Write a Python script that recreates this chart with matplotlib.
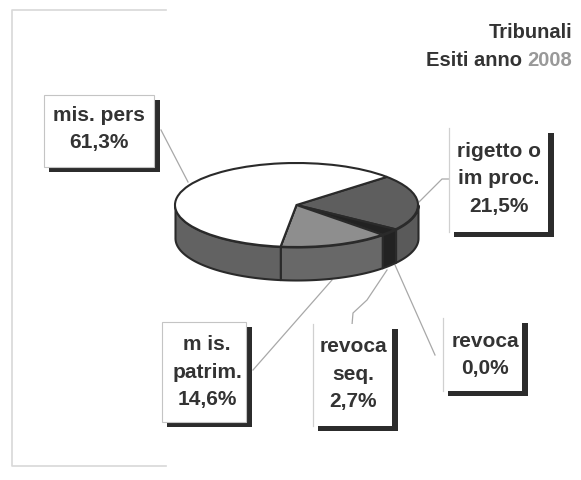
import numpy as np
import matplotlib
matplotlib.use('Agg')
import matplotlib.pyplot as plt
from matplotlib.patches import Rectangle

plt.rcParams['font.family'] = ['Liberation Sans', 'DejaVu Sans']

W, H = 581, 480

# clockwise from the back right of the pie
labels = ['rigetto o improc.', 'revoca seq.', 'mis. patrim.', 'revoca', 'mis. pers']
values = [21.5, 2.7, 14.6, 0.0, 61.3]
top_colors = ['#5e5e5e', '#222222', '#8e8e8e', '#444444', '#ffffff']
wall_colors = ['#5a5a5a', '#222222', '#686868', '#444444', '#626262']

box_texts = ['rigetto o\nim proc.\n21,5%', 'revoca\nseq.\n2,7%', 'm is.\npatrim.\n14,6%',
             'revoca\n0,0%', 'mis. pers\n61,3%']
# left, top, right, bottom in pixels
box_rects = [(449, 128, 548, 232), (313, 324, 392, 426), (162, 322, 246, 422),
             (443, 318, 522, 391), (44, 95, 154, 167)]
text_centers = [(499, 179), (353, 374), (207, 372), (485, 355), (99, 129)]
full_frame = [False, False, True, False, True]
leaders = [[(419, 202), (442, 179), (449, 179)],
           [(387, 270), (367, 300), (353, 313), (352, 325)],
           [(332, 280), (253, 370)],
           [(395, 265), (435, 355)],
           [(161, 130), (188, 182)]]

fig = plt.figure(figsize=(W / 100, H / 100), dpi=100, facecolor='white')

bg = fig.add_axes([0, 0, 1, 1])
bg.set_xlim(0, W)
bg.set_ylim(H, 0)
bg.axis('off')

# faint scanned frame
bg.plot([166, 12, 12, 166], [10, 10, 466, 466], color='#d8d8d8', lw=1.2)

for pts in leaders:
    xs, ys = zip(*pts)
    bg.plot(xs, ys, color='#a8a8a8', lw=0.9)

for (x0, y0, x1, y1), txt, (tx, ty), full in zip(box_rects, box_texts, text_centers, full_frame):
    bg.add_patch(Rectangle((x0 + 5, y0 + 5), x1 - x0 + 1, y1 - y0, fc='#2c2c2c', ec='none', zorder=3))
    bg.add_patch(Rectangle((x0, y0), x1 - x0, y1 - y0, fc='white',
                           ec='#c4c4c4' if full else 'none', lw=0.8, zorder=4))
    if not full:
        bg.plot([x0, x0], [y0, y1], color='#d0d0d0', lw=0.9, zorder=5)
    bg.text(tx, ty, txt, ha='center', va='center', fontsize=15,
            fontweight='bold', color='#333333', linespacing=1.55, zorder=5)

bg.text(572, 32, 'Tribunali', ha='right', va='center', fontsize=14.5, fontweight='bold', color='#333333')
bg.text(572, 60, '2008', ha='right', va='center', fontsize=14.5, fontweight='bold', color='#999999')
bg.text(522, 60, 'Esiti anno', ha='right', va='center', fontsize=14.5, fontweight='bold', color='#333333')

# pie: unit circle squashed into an ellipse
cx, cy, a, b, depth = 296.5, 205, 121.5, 42, 33
ax = fig.add_axes([(cx - a) / W, 1 - (cy + b) / H, 2 * a / W, 2 * b / H])
ax.patch.set_alpha(0)
start = 42
ax.pie(values, colors=top_colors, startangle=start, counterclock=False, radius=1,
       wedgeprops=dict(edgecolor='#2a2a2a', linewidth=1.5, clip_on=False))
ax.set_aspect('auto')
ax.set_xlim(-1, 1)
ax.set_ylim(-1, 1)

d = depth / b
edges = start - np.cumsum([0] + values) * 3.6
for i in range(len(values)):
    # only the front half of the rim shows
    t_hi = min(edges[i], 0)
    t_lo = max(edges[i + 1], -180)
    if t_hi <= t_lo:
        continue
    t = np.radians(np.linspace(t_lo, t_hi, 60))
    ax.fill_between(np.cos(t), np.sin(t) - d, np.sin(t), color=wall_colors[i], ec='#2a2a2a', lw=1.5,
                    clip_on=False, zorder=0)

fig.savefig('out.png', dpi=100)
